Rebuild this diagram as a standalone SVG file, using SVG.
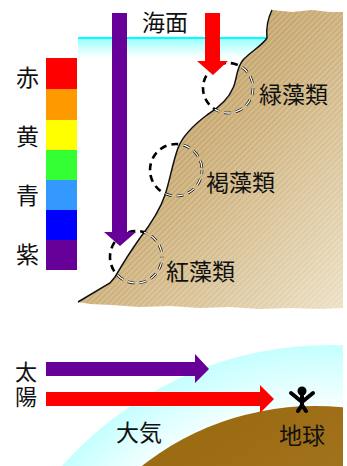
<svg xmlns="http://www.w3.org/2000/svg" width="347" height="466" viewBox="0 0 347 466">
  <style>
    .lbl { font-family: "Liberation Sans", "Noto Sans CJK JP", sans-serif; font-size: 23px; fill: #111; }
    .ring-o { fill: none; stroke: #000; stroke-width: 2.6; stroke-dasharray: 7 5; }
    .ring-i { fill: none; stroke: #fff; stroke-width: 1.3; stroke-dasharray: 7 5; }
  </style>
  <defs>
    <linearGradient id="water" x1="0" y1="0" x2="0" y2="1">
      <stop offset="0" stop-color="#99ffff"/>
      <stop offset="1" stop-color="#ffffff"/>
    </linearGradient>
    <linearGradient id="land" x1="0" y1="0" x2="1" y2="1">
      <stop offset="0" stop-color="#ad8644"/>
      <stop offset="0.5" stop-color="#cbad76"/>
      <stop offset="1" stop-color="#ece0c4"/>
    </linearGradient>
    <pattern id="hatch" width="4" height="4" patternUnits="userSpaceOnUse" patternTransform="rotate(-45)">
      <rect width="4" height="2" fill="#ffffff" opacity="0.18"/>
    </pattern>
    <path id="landShape" d="M272,10 C268,18 266,28 267,38 C262,46 250,52 243,60 C236,68 237,80 233,88 C229,98 218,108 207,115 C195,124 183,135 178,148 C172,165 170,180 165,195 C160,210 150,225 140,238 C130,252 122,265 115,277 L110,283 L78,302 L90,304 L112,305 L140,307 L170,306 L200,308 L230,307 L260,309 L290,308 L320,309 L343,308 L343,12 L330,12 L312,10 L292,12 Z"/>
    <clipPath id="onLand"><use href="#landShape"/></clipPath>
    <radialGradient id="air" gradientUnits="userSpaceOnUse" cx="330" cy="702" r="357">
      <stop offset="0.8" stop-color="#ffffff"/>
      <stop offset="1" stop-color="#c4ffff"/>
    </radialGradient>
    <linearGradient id="earth" x1="0" y1="0" x2="0.6" y2="1">
      <stop offset="0" stop-color="#966408"/>
      <stop offset="1" stop-color="#b89048"/>
    </linearGradient>
  </defs>

  <!-- sea surface -->
  <g id="sea">
    <rect x="78" y="38" width="195" height="20" fill="url(#water)"/>
    <line x1="78" y1="38" x2="268" y2="38" stroke="#00ffff" stroke-width="2"/>
  </g>

  <!-- rocky shore -->
  <g id="shore">
    <use href="#landShape" fill="url(#land)"/>
    <use href="#landShape" fill="url(#hatch)"/>
    <path d="M272,10 C268,18 266,28 267,38 C262,46 250,52 243,60 C236,68 237,80 233,88 C229,98 218,108 207,115 C195,124 183,135 178,148 C172,165 170,180 165,195 C160,210 150,225 140,238 C130,252 122,265 115,277 L110,283 L78,302" fill="none" stroke="#111" stroke-width="1.5"/>
  </g>

  <!-- spectrum bar -->
  <g id="spectrum">
    <rect x="46" y="58" width="31" height="31" fill="#ff0000"/>
    <rect x="46" y="89" width="31" height="31" fill="#ff9900"/>
    <rect x="46" y="120" width="31" height="30" fill="#ffff00"/>
    <rect x="46" y="150" width="31" height="30" fill="#33ff33"/>
    <rect x="46" y="180" width="31" height="30" fill="#3399ff"/>
    <rect x="46" y="210" width="31" height="30" fill="#0000ff"/>
    <rect x="46" y="240" width="31" height="30" fill="#660099"/>
    <text class="lbl" x="16" y="86">赤</text>
    <text class="lbl" x="16" y="145">黄</text>
    <text class="lbl" x="16" y="204">青</text>
    <text class="lbl" x="16" y="263">紫</text>
  </g>

  <g id="sea-label"><text class="lbl" x="142" y="31">海面</text></g>

  <!-- algae zones: black dashes, white cores where they cross the rock -->
  <g id="green-algae">
    <circle cx="228" cy="88" r="25" class="ring-o"/>
    <circle cx="228" cy="88" r="25" class="ring-i" clip-path="url(#onLand)"/>
    <text class="lbl" x="259" y="103">緑藻類</text>
  </g>
  <g id="brown-algae">
    <circle cx="176" cy="170" r="26" class="ring-o" stroke-dashoffset="3"/>
    <circle cx="176" cy="170" r="26" class="ring-i" stroke-dashoffset="3" clip-path="url(#onLand)"/>
    <text class="lbl" x="206" y="191">褐藻類</text>
  </g>
  <g id="red-algae">
    <circle cx="136" cy="257" r="26" class="ring-o" stroke-dashoffset="6"/>
    <circle cx="136" cy="257" r="26" class="ring-i" stroke-dashoffset="6" clip-path="url(#onLand)"/>
    <text class="lbl" x="166" y="280">紅藻類</text>
  </g>

  <!-- light penetrating water -->
  <g id="connectors">
    <path d="M112,13 H127 V232 H136 L120,246 L104,232 H112 Z" fill="#660099"/>
    <path d="M205,13 H220 V61 H228 L213,75 L197,61 H205 Z" fill="#ff0000"/>
  </g>

  <!-- atmosphere and earth -->
  <g id="atmosphere">
    <circle cx="330" cy="702" r="357" fill="url(#air)"/>
    <text class="lbl" x="116" y="441">大気</text>
  </g>
  <g id="earth-g">
    <circle cx="315" cy="686" r="280" fill="url(#earth)"/>
    <text class="lbl" x="279" y="444">地球</text>
  </g>
  <rect x="343" y="330" width="4" height="136" fill="#fff"/>

  <g id="person" stroke="#000" stroke-width="4" stroke-linecap="round" stroke-linejoin="round" fill="none">
    <circle cx="302" cy="391" r="4.5" fill="#000" stroke="none"/>
    <path d="M291,393 L302,402 L313,393"/>
    <path d="M302,396 V405 L298,411 M302,405 L306,411"/>
  </g>

  <g id="sun-rays">
    <text class="lbl" x="15" y="380" style="font-size:22px">太</text>
    <text class="lbl" x="15" y="405" style="font-size:22px">陽</text>
    <path d="M46,362 H195 V354 L209,369 L195,383 V376 H46 Z" fill="#660099"/>
    <path d="M46,392 H260 V385 L274,399 L260,413 V406 H46 Z" fill="#ff0000"/>
  </g>
</svg>
